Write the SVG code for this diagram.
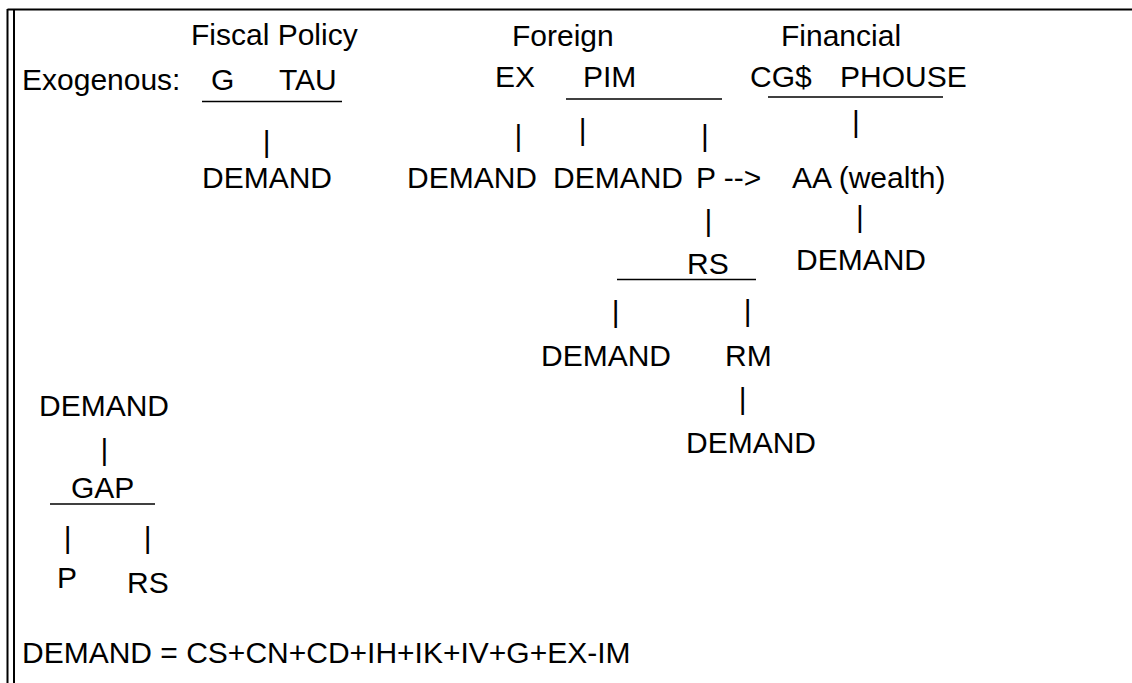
<svg xmlns="http://www.w3.org/2000/svg" width="1132" height="683" viewBox="0 0 1132 683">
<style>
text{font-family:"Liberation Sans",Arial,sans-serif;font-size:30px;fill:#000}
.bar{text-anchor:middle}
.ul{stroke:#000;stroke-width:1.6}
.bd{stroke:#000;stroke-width:2;fill:none}
</style>
<rect width="1132" height="683" fill="#fff"/>
<g id="border">
<line class="bd" x1="7.5" y1="9.5" x2="1132" y2="9.5"/>
<line class="bd" x1="7.5" y1="9" x2="7.5" y2="683"/>
<line class="bd" x1="14" y1="9" x2="14" y2="683"/>
</g>
<g id="fiscal">
<text x="191" y="45">Fiscal Policy</text>
<text x="22" y="90">Exogenous:</text>
<text x="211" y="90">G</text>
<text x="279" y="90">TAU</text>
</g>
<g id="foreign">
<text x="512" y="46">Foreign</text>
<text x="495" y="87">EX</text>
<text x="583" y="87">PIM</text>
</g>
<g id="financial">
<text x="781" y="46">Financial</text>
<text x="750" y="87">CG$</text>
<text x="840" y="87">PHOUSE</text>
</g>
<g id="demand1"><text x="202" y="188">DEMAND</text></g>
<g id="demand2"><text x="407" y="188">DEMAND</text></g>
<g id="demand3"><text x="553" y="188">DEMAND</text></g>
<g id="p1"><text x="696" y="188">P --&gt;</text></g>
<g id="aa"><text x="792" y="188">AA (wealth)</text></g>
<g id="demand4"><text x="796" y="270">DEMAND</text></g>
<g id="rs1"><text x="687" y="274">RS</text></g>
<g id="demand5"><text x="541" y="366">DEMAND</text></g>
<g id="rm"><text x="725" y="366">RM</text></g>
<g id="demand6"><text x="686" y="453">DEMAND</text></g>
<g id="demand7"><text x="39" y="416">DEMAND</text></g>
<g id="gap"><text x="71" y="498">GAP</text></g>
<g id="p2"><text x="57" y="588">P</text></g>
<g id="rs2"><text x="127" y="593">RS</text></g>
<g id="formula"><text x="22" y="663">DEMAND = CS+CN+CD+IH+IK+IV+G+EX-IM</text></g>
<g id="connectors">
<line class="ul" x1="202" y1="101.5" x2="342" y2="101.5"/>
<line class="ul" x1="566" y1="99" x2="722" y2="99"/>
<line class="ul" x1="768" y1="97" x2="943" y2="97"/>
<line class="ul" x1="617" y1="279.5" x2="756" y2="279.5"/>
<line class="ul" x1="50" y1="504" x2="155" y2="504"/>
<text class="bar" x="266.7" y="152">|</text>
<text class="bar" x="518.3" y="145.5">|</text>
<text class="bar" x="582.7" y="139.5">|</text>
<text class="bar" x="705" y="145.5">|</text>
<text class="bar" x="856" y="132">|</text>
<text class="bar" x="708.3" y="230.5">|</text>
<text class="bar" x="860" y="227">|</text>
<text class="bar" x="615.7" y="322">|</text>
<text class="bar" x="747.7" y="320.5">|</text>
<text class="bar" x="742.7" y="409">|</text>
<text class="bar" x="104.3" y="460">|</text>
<text class="bar" x="67.7" y="548">|</text>
<text class="bar" x="147.7" y="548">|</text>
</g>
</svg>
